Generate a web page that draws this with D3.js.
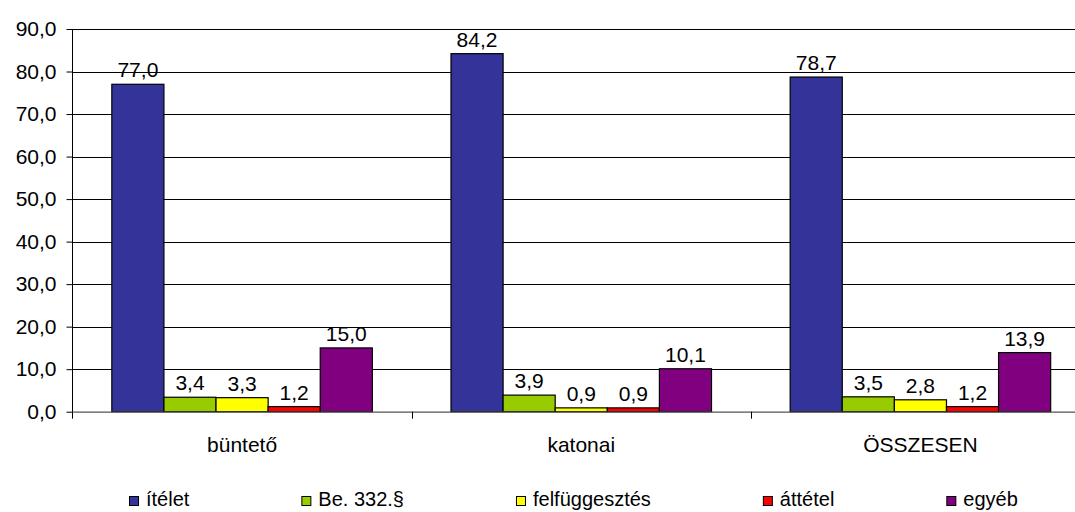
<!DOCTYPE html>
<html>
<head>
<meta charset="utf-8">
<script src="https://cdn.jsdelivr.net/npm/d3@7"></script>
<style>
  html, body { margin: 0; padding: 0; background: #fff; }
  svg text { font-family: "Liberation Sans", Arial, sans-serif; fill: #000; }
</style>
</head>
<body>
<svg id="chart" width="1075" height="512"></svg>
<script>
const categories = ["büntető", "katonai", "ÖSSZESEN"];
const seriesNames = ["ítélet", "Be. 332.§", "felfüggesztés", "áttétel", "egyéb"];
const seriesColors = ["#333399", "#99CC00", "#FFFF00", "#FF0000", "#800080"];
const itelet = [77.0, 84.2, 78.7];
const be332 = [3.4, 3.9, 3.5];
const felfuggesztes = [3.3, 0.9, 2.8];
const attetel = [1.2, 0.9, 1.2];
const egyeb = [15.0, 10.1, 13.9];
const yTicks = [0, 10, 20, 30, 40, 50, 60, 70, 80, 90];

const seriesValues = [itelet, be332, felfuggesztes, attetel, egyeb];
const fmt = v => v.toFixed(1).replace(".", ",");

const svg = d3.select("#chart");
const plotLeft = 72.5, plotRight = 1075, plotTop = 29, plotBottom = 411.7;
const FONT = 21;

const y = d3.scaleLinear().domain([0, 90]).range([plotBottom, plotTop]);
const x0 = d3.scaleBand().domain(categories).range([plotLeft, 1090]).paddingInner(0).paddingOuter(0);
const groupPad = (x0.bandwidth() - 260.5) / 2;
const x1 = d3.scaleBand().domain(seriesNames).range([groupPad, x0.bandwidth() - groupPad]).padding(0);

// gridlines
svg.append("g")
  .selectAll("line")
  .data(yTicks.filter(t => t > 0))
  .join("line")
  .attr("x1", plotLeft).attr("x2", plotRight)
  .attr("y1", d => Math.round(y(d)) + 0.5).attr("y2", d => Math.round(y(d)) + 0.5)
  .attr("stroke", "#000").attr("stroke-width", 1);

// y axis
const yAxis = d3.axisLeft(y).tickValues(yTicks).tickSize(6).tickPadding(10).tickFormat(fmt);
const gy = svg.append("g").attr("transform", `translate(${plotLeft},0)`).call(yAxis);
gy.select(".domain").remove();
gy.selectAll(".tick line").attr("stroke", "#000");
gy.selectAll(".tick text").style("font-size", FONT + "px").style("font-family", '"Liberation Sans", Arial, sans-serif').attr("fill", "#000");
svg.append("line")
  .attr("x1", plotLeft).attr("x2", plotLeft)
  .attr("y1", plotTop).attr("y2", plotBottom + 7)
  .attr("stroke", "#000");

// bars
const groups = svg.append("g").selectAll("g")
  .data(categories)
  .join("g")
  .attr("transform", d => `translate(${x0(d)},0)`);

groups.selectAll("rect")
  .data((c, ci) => seriesNames.map((s, si) => ({ s, si, v: seriesValues[si][ci] })))
  .join("rect")
  .attr("x", d => x1(d.s))
  .attr("y", d => y(d.v))
  .attr("width", x1.bandwidth())
  .attr("height", d => plotBottom - y(d.v))
  .attr("fill", d => seriesColors[d.si])
  .attr("stroke", "#000")
  .attr("stroke-width", 1.2);

groups.selectAll("text.val")
  .data((c, ci) => seriesNames.map((s, si) => ({ s, si, v: seriesValues[si][ci] })))
  .join("text")
  .attr("class", "val")
  .attr("x", d => x1(d.s) + x1.bandwidth() / 2)
  .attr("y", d => y(d.v) - 7)
  .attr("text-anchor", "middle")
  .style("font-size", FONT + "px")
  .text(d => fmt(d.v));

// x axis
svg.append("line")
  .attr("x1", plotLeft).attr("x2", plotRight)
  .attr("y1", plotBottom + 0.5).attr("y2", plotBottom + 0.5)
  .attr("stroke", "#555").attr("stroke-width", 1.2);

svg.append("g").selectAll("line")
  .data(categories.slice(1))
  .join("line")
  .attr("x1", d => Math.round(x0(d)) + 0.5).attr("x2", d => Math.round(x0(d)) + 0.5)
  .attr("y1", plotBottom).attr("y2", plotBottom + 7)
  .attr("stroke", "#000");

svg.append("g").selectAll("text")
  .data(categories)
  .join("text")
  .attr("x", d => x0(d) + x0.bandwidth() / 2)
  .attr("y", 452)
  .attr("text-anchor", "middle")
  .style("font-size", FONT + "px")
  .text(d => d);

// legend
const legend = svg.append("g");
let lx = 129;
seriesNames.forEach((name, i) => {
  legend.append("rect")
    .attr("x", lx + 0.5).attr("y", 496.5)
    .attr("width", 9).attr("height", 9)
    .attr("fill", seriesColors[i])
    .attr("stroke", "#000").attr("stroke-width", 1);
  const t = legend.append("text")
    .attr("x", lx + 17).attr("y", 506)
    .style("font-size", "20px")
    .text(name);
  const w = t.node().getComputedTextLength();
  lx = lx + 17 + w + 112;
});
</script>
</body>
</html>
